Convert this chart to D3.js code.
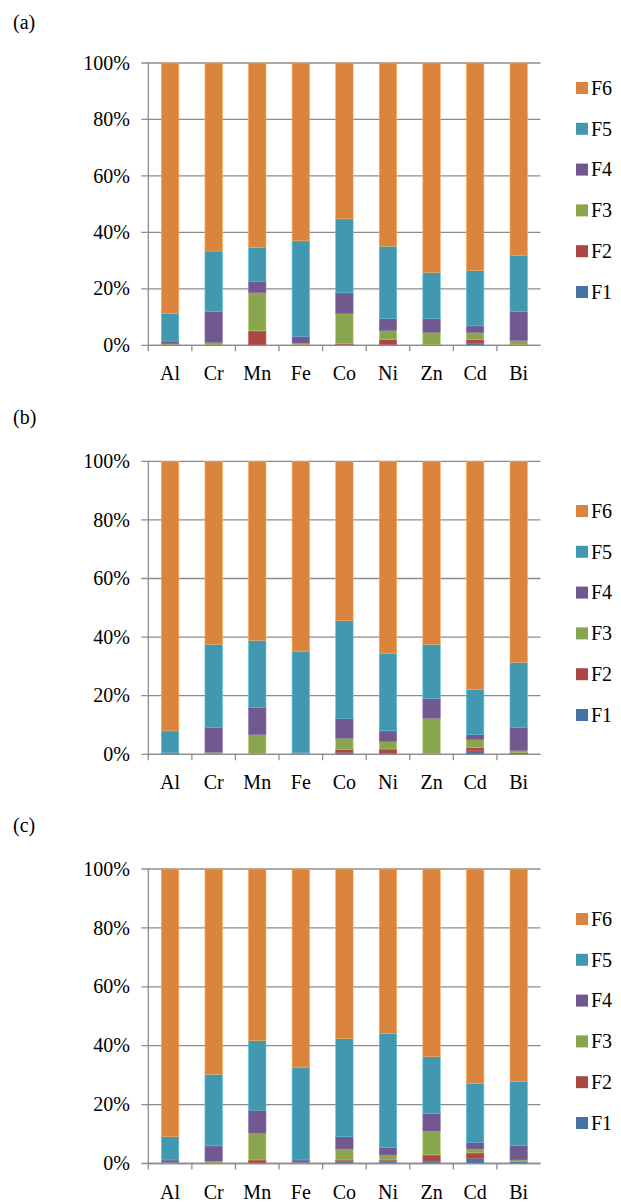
<!DOCTYPE html>
<html>
<head>
<meta charset="utf-8">
<title>Fractions F1-F6</title>
<script src="https://d3js.org/d3.v7.min.js"></script>
<style>
  body { margin: 0; background: #fff; }
  svg text { font-family: 'Liberation Serif', 'Times New Roman', serif; fill: #000; }
</style>
</head>
<body>
<div id="chart"></div>
<script>
// categories and series
var elements = ["Al", "Cr", "Mn", "Fe", "Co", "Ni", "Zn", "Cd", "Bi"];
var fractions = ["F1", "F2", "F3", "F4", "F5", "F6"];
var yTicks = [0, 20, 40, 60, 80, 100];

// panel (a), percent of total
var aF1 = [0.2, 0.0, 0.1, 0.1, 0.2, 0.2, 0.1, 0.7, 0.2];
var aF2 = [0.1, 0.1, 5.0, 0.1, 0.5, 1.9, 0.2, 1.4, 0.1];
var aF3 = [0.2, 0.9, 13.5, 0.6, 10.5, 3.1, 4.2, 2.4, 1.4];
var aF4 = [1.0, 10.9, 4.1, 2.4, 7.4, 4.2, 4.9, 2.4, 10.2];
var aF5 = [9.7, 21.5, 11.9, 33.8, 26.2, 25.7, 16.4, 19.6, 20.0];
var aF6 = [88.8, 66.6, 65.4, 63.0, 55.2, 64.9, 74.2, 73.5, 68.1];

// panel (b)
var bF1 = [0.1, 0.0, 0.1, 0.1, 0.7, 0.2, 0.1, 1.2, 0.5];
var bF2 = [0.0, 0.1, 0.1, 0.1, 1.0, 1.6, 0.1, 1.1, 0.1];
var bF3 = [0.1, 0.6, 6.5, 0.2, 3.8, 2.5, 12.1, 2.7, 0.7];
var bF4 = [0.4, 8.5, 9.3, 0.3, 6.7, 3.7, 6.7, 1.8, 7.9];
var bF5 = [7.4, 28.3, 22.9, 34.5, 33.4, 26.5, 18.5, 15.4, 22.2];
var bF6 = [92.0, 62.5, 61.1, 64.8, 54.4, 65.5, 62.5, 77.8, 68.6];

// panel (c)
var cF1 = [0.1, 0.1, 0.1, 0.1, 0.8, 0.7, 0.8, 1.8, 0.6];
var cF2 = [0.1, 0.1, 1.1, 0.1, 0.4, 0.5, 2.1, 1.8, 0.1];
var cF3 = [0.2, 0.6, 9.1, 0.2, 3.7, 1.7, 8.1, 1.3, 0.5];
var cF4 = [0.8, 5.2, 7.8, 0.8, 4.2, 2.5, 6.0, 2.3, 4.9];
var cF5 = [7.9, 24.3, 23.6, 31.5, 33.3, 38.8, 19.3, 20.0, 21.8];
var cF6 = [90.9, 69.7, 58.3, 67.3, 57.6, 55.8, 63.7, 72.8, 72.1];

var colors = ["#4572A7", "#AA4643", "#89A54E", "#71588F", "#4198AF", "#DB843D"];

var panels = [
  { label: "(a)", labelY: 29, top: 63, bottom: 345.3, legendY: 88, series: [aF1, aF2, aF3, aF4, aF5, aF6] },
  { label: "(b)", labelY: 424, top: 461.3, bottom: 754.3, legendY: 511, series: [bF1, bF2, bF3, bF4, bF5, bF6] },
  { label: "(c)", labelY: 832, top: 869, bottom: 1163.5, legendY: 919, series: [cF1, cF2, cF3, cF4, cF5, cF6] }
];

var W = 621, H = 1204;
var left = 148.3, right = 540.5;

var svg = d3.select("#chart").append("svg")
  .attr("width", W)
  .attr("height", H);

var color = d3.scaleOrdinal().domain(fractions).range(colors);

var x = d3.scaleBand()
  .domain(elements)
  .range([left, right])
  .paddingInner(0.6)
  .paddingOuter(0.3);

// band used for the category tick marks
var xb = d3.scaleBand().domain(elements).range([left, right]);

panels.forEach(function (p) {
  var g = svg.append("g");

  var y = d3.scaleLinear().domain([0, 100]).range([p.bottom, p.top]);

  // panel label
  g.append("text")
    .attr("x", 13)
    .attr("y", p.labelY)
    .style("font-size", "20px")
    .text(p.label);

  // gridlines
  g.selectAll(".grid")
    .data(yTicks)
    .enter().append("line")
    .attr("x1", left - 7)
    .attr("x2", right)
    .attr("y1", function (d) { return y(d); })
    .attr("y2", function (d) { return y(d); })
    .attr("stroke", "#8c8c8c")
    .attr("stroke-width", 1.3);

  // y axis line
  g.append("line")
    .attr("x1", left).attr("x2", left)
    .attr("y1", p.top).attr("y2", p.bottom)
    .attr("stroke", "#8c8c8c")
    .attr("stroke-width", 1.3);

  // y tick labels
  g.selectAll(".ylab")
    .data(yTicks)
    .enter().append("text")
    .attr("x", 130)
    .attr("y", function (d) { return y(d); })
    .attr("dy", "0.33em")
    .attr("text-anchor", "end")
    .style("font-size", "20px")
    .text(function (d) { return d + "%"; });

  // x tick marks between categories
  var tickX = elements.map(function (e) { return xb(e); });
  g.selectAll(".xtick")
    .data(tickX)
    .enter().append("line")
    .attr("x1", function (d) { return d; })
    .attr("x2", function (d) { return d; })
    .attr("y1", p.bottom)
    .attr("y2", p.bottom + 6)
    .attr("stroke", "#8c8c8c")
    .attr("stroke-width", 1.3);

  // stacked bars
  var rows = elements.map(function (e, i) {
    var r = { el: e };
    fractions.forEach(function (f, k) { r[f] = p.series[k][i]; });
    return r;
  });
  var stacked = d3.stack().keys(fractions)(rows);

  g.selectAll(".layer")
    .data(stacked)
    .enter().append("g")
    .attr("fill", function (d) { return color(d.key); })
    .attr("stroke", function (d) { return d3.color(color(d.key)).brighter(0.7); })
    .attr("stroke-width", 0.6)
    .selectAll("rect")
    .data(function (d) { return d; })
    .enter().append("rect")
    .attr("x", function (d) { return x(d.data.el); })
    .attr("width", x.bandwidth())
    .attr("y", function (d) { return y(d[1]); })
    .attr("height", function (d) { return Math.max(0, y(d[0]) - y(d[1])); });

  // x axis baseline on top of bars
  g.append("line")
    .attr("x1", left).attr("x2", right)
    .attr("y1", p.bottom).attr("y2", p.bottom)
    .attr("stroke", "#8c8c8c")
    .attr("stroke-width", 1.3);

  // category labels
  g.selectAll(".xlab")
    .data(elements)
    .enter().append("text")
    .attr("x", function (d) { return x(d) + x.bandwidth() / 2; })
    .attr("y", p.bottom + 35)
    .attr("text-anchor", "middle")
    .style("font-size", "20px")
    .text(function (d) { return d; });

  // legend, F6 at top
  var legend = g.selectAll(".leg")
    .data(fractions.slice().reverse())
    .enter().append("g")
    .attr("transform", function (d, i) { return "translate(576," + (p.legendY + i * 40.8) + ")"; });

  legend.append("rect")
    .attr("x", 0)
    .attr("y", -6)
    .attr("width", 12)
    .attr("height", 12)
    .attr("fill", function (d) { return color(d); });

  legend.append("text")
    .attr("x", 15)
    .attr("dy", "0.34em")
    .style("font-size", "20px")
    .text(function (d) { return d; });
});
</script>
</body>
</html>
